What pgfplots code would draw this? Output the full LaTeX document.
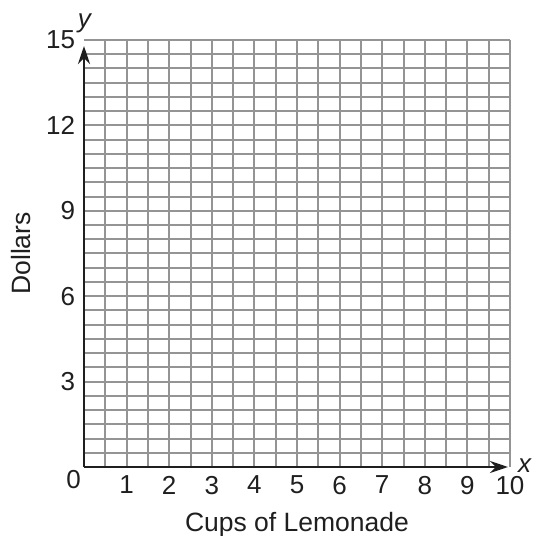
\documentclass[border=0pt]{standalone}
\usepackage{fontspec}
\setmainfont{Liberation Sans}
\usepackage{pgfplots}
\pgfplotsset{compat=1.18}
\usetikzlibrary{arrows.meta}
\begin{document}
\fontsize{26}{31}\selectfont
\begin{tikzpicture}
\useasboundingbox (-84pt,-69pt) rectangle (450pt,467pt);
\begin{axis}[
  at={(0pt,0pt)}, anchor=south west,
  width=426pt, height=427pt, scale only axis,
  xmin=0, xmax=10, ymin=0, ymax=15,
  axis x line=bottom, axis y line=left,
  x axis line style={-{Stealth[length=18pt,width=12pt]}, shorten >=2pt, line width=2.8pt, black!88},
  y axis line style={-{Stealth[length=18pt,width=12pt]}, shorten >=6pt, line width=2.8pt, black!88},
  xtick={0.5,1,1.5,2,2.5,3,3.5,4,4.5,5,5.5,6,6.5,7,7.5,8,8.5,9,9.5,10},
  xticklabels={,1,,2,,3,,4,,5,,6,,7,,8,,9,,10},
  ytick={0.5,1,1.5,2,2.5,3,3.5,4,4.5,5,5.5,6,6.5,7,7.5,8,8.5,9,9.5,10,10.5,11,11.5,12,12.5,13,13.5,14,14.5,15},
  yticklabels={,,,,,3,,,,,,6,,,,,,9,,,,,,12,,,,,,15},
  grid=major,
  major grid style={line width=2pt, draw=black!42},
  major tick length=0pt,
  ticklabel style={font=\fontsize{26}{31}\selectfont, text=black!88},
  label style={font=\fontsize{26.5}{31}\selectfont, text=black!88},
  xlabel={Cups of Lemonade}, ylabel={Dollars},
  ylabel style={xshift=0pt, yshift=-2.5pt},
  clip=false,
]
\addplot[draw=none] coordinates {(0,0) (10,15)};
\node[anchor=north east, inner sep=3pt, text=black!88] at (axis cs:0,0) {0};
\node[anchor=base, inner sep=0pt, yshift=12.5pt, xshift=1pt, text=black!88] at (axis cs:0,15) {\textit{y}};
\node[anchor=base west, inner sep=0pt, xshift=8pt, yshift=-5pt, text=black!88] at (axis cs:10,0) {\textit{x}};
\end{axis}
\end{tikzpicture}
\end{document}
